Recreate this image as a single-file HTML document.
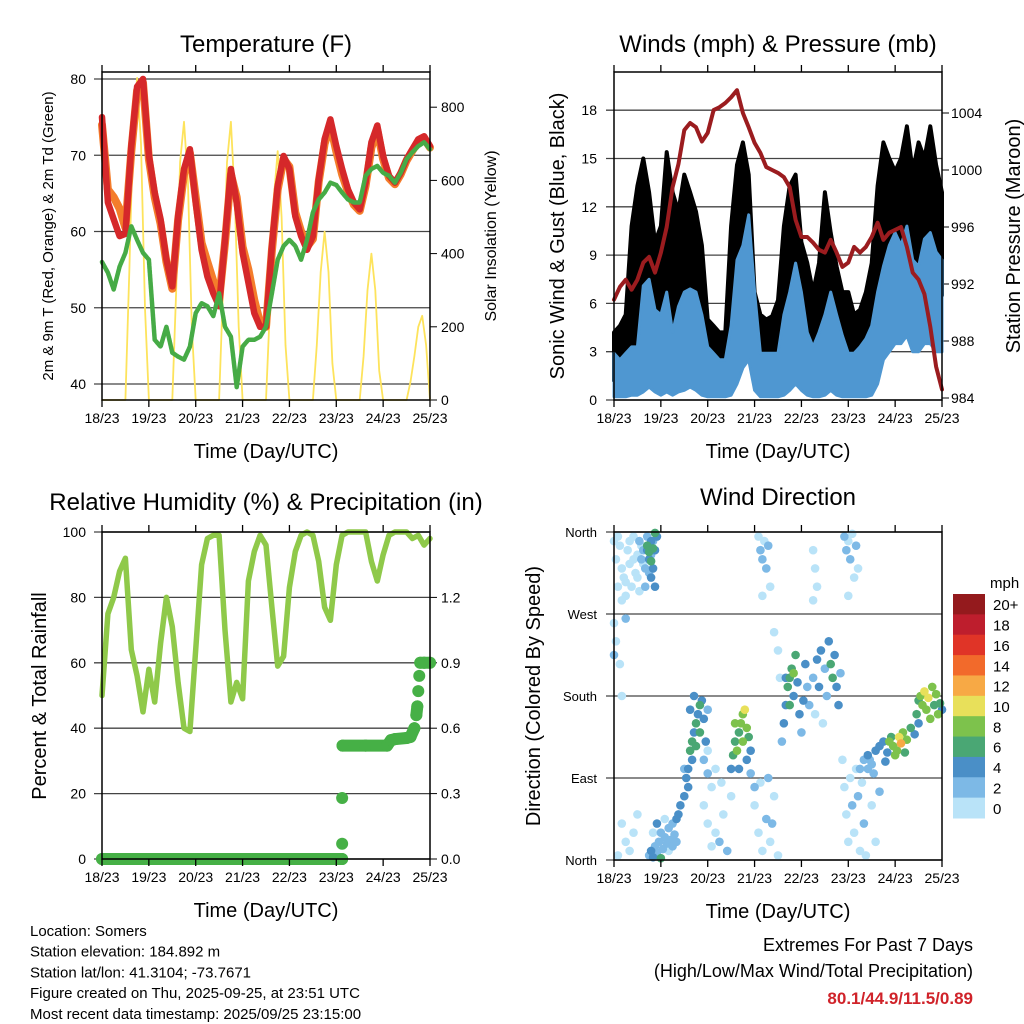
<!DOCTYPE html>
<html><head><meta charset="utf-8"><style>
body{margin:0;background:#fff;}
svg{display:block;font-family:"Liberation Sans",sans-serif;}
</style></head><body>
<svg id="s" width="1024" height="1024" viewBox="0 0 1024 1024"></svg>
<script>
// ---------- DATA (3-hourly, t = 0..168 h from 18/23) ----------
const dayLabels = ["18/23","19/23","20/23","21/23","22/23","23/23","24/23","25/23"];
const temp2m = [75,63.8,61.6,59.4,59.7,71.2,79,80,70,65.1,61.6,56.3,52.8,62,68.2,70.8,63.8,57.6,54.1,51.9,50.2,58.9,68.2,63.8,57.2,53.3,49.3,47.5,47.5,58.1,66,69.9,68.2,62,59.4,57.6,59.4,66.8,72.1,74.7,71.2,68.2,65.5,63.8,62.9,66.4,71.7,73.9,69.9,67.3,66.4,67.7,69.5,70.8,72.1,72.5,71.2];
const temp9m = [74,65.5,64.5,63,60.5,70.5,78.5,79.5,69.5,64.5,61,56,52.5,61.5,67.5,70.3,64.5,58.5,56,53.5,51,58.5,67.5,64.5,58,55,51,48,47.5,57.5,65.5,69.5,68.5,62.5,60,58,59,66.5,71.5,74,70.5,67.5,65.2,63.5,62.7,66,71,73.3,69.5,67,66.2,67.5,69.3,70.6,71.8,72.2,71];
const dewpt = [56,54.6,52.4,55.4,57.2,60.7,58.9,57.2,56.3,45.8,44.9,47.5,44.1,43.6,43.2,44.9,49.3,50.6,50.2,48.9,51.9,47.5,46.2,39.6,44.9,45.8,45.8,46.2,47.5,51.9,56.3,58.1,58.9,58.1,56.3,58.9,62.5,64.2,65.1,66.4,66.1,65.1,64.2,63.8,63.8,67.3,68.2,68.6,67.7,67.3,66.4,67.7,69.5,70.4,71.2,71.7,70.8];
// solar insolation, 2-hourly
const solar = [0,0,0,0,0,0,0,350,750,880,700,250,0,0,0,0,0,0,0,300,650,760,600,200,0,0,0,0,0,0,0,300,650,760,550,200,0,0,0,0,0,0,0,250,550,680,500,150,0,0,0,0,0,0,0,150,350,460,350,100,0,0,0,0,0,0,0,120,300,400,300,80,0,0,0,0,0,0,0,50,120,200,230,150,0];
const windHigh = [2.9,2.5,2.9,3.3,3.3,7.1,7.5,5.6,5.3,6.7,4.2,5.8,6.7,6.9,6.7,5.3,3.3,2.9,2.5,2.5,4.6,8.7,9.6,11.5,6.7,2.9,2.9,2.9,2.9,5.3,6.7,8.5,6.7,4.2,3.3,4.2,5.3,6.7,5.3,4.0,2.9,2.9,3.3,3.8,4.6,6.7,8.3,9.6,10.4,9.6,10.8,8.7,8.3,10.0,10.4,9.2,8.7];
const windLow = [0.2,0.2,0.2,0.3,0.3,0.5,0.8,0.5,0.3,0.5,0.3,0.5,0.6,0.8,0.6,0.3,0.2,0.2,0.2,0.2,0.3,1.0,2.0,2.5,0.6,0.2,0.2,0.2,0.2,0.3,0.6,1.0,0.6,0.3,0.2,0.2,0.3,0.6,0.3,0.2,0.2,0.2,0.2,0.2,0.3,1.0,2.5,3.0,3.5,3.5,4.0,3.0,3.0,3.5,3.5,3.0,3.0];
const gustHigh = [4.2,4.6,5.3,10.8,13.3,15,12.9,9.8,10.8,15.4,12.9,11.7,14,12.9,11.7,9.6,5,4.6,4.2,4.2,10.8,14.6,16,14,6.7,5.3,5,5.2,6.2,10.8,13.3,14,9.8,8.5,6.7,8.5,12.9,10.4,8.3,6.7,6.7,5.3,5.6,6.7,8.5,13.3,16,15,14.2,15,17,14.2,16,15,17,14.6,12.9];
const gustLow = [1.2,1.2,1.5,2.5,3,3.5,3.5,3,2.5,3,2.5,3,3.5,3.5,3,2.5,1.5,1.2,1.2,1.2,2.5,4,5,5.5,3,1.5,1.2,1.2,1.5,3,3.5,4,3.5,2.5,1.5,2.5,3,3.5,3,2,1.5,1.5,1.5,2,2.5,4,6,7,7.5,7.5,8,7,7,7.5,7.5,7,6.5];
const pressure = [990.9,991.8,992.3,991.6,992.3,993.5,993.9,992.8,994.2,996,998.8,1000.4,1002.8,1003.3,1003,1002,1002.6,1004.2,1004.4,1004.7,1005.1,1005.6,1004,1003,1001.9,1001.2,1000.2,1000,999.8,999.5,998.8,996.5,995.3,995.3,994.9,994.4,994.2,995.1,994.2,993.2,993.5,994.6,994.2,994.6,995.3,996.3,995.1,995.6,995.8,996,994.6,992.8,992.3,991.3,989,986.2,984.6];
const rh = [50,75,80,88,92,64,56,45,58,48,66,80,71,54,40,39,64,90,98,99,99,70,48,54,49,85,94,99,96,77,59,62,83,94,99,100,99,91,77,73,90,99,100,100,100,100,91,85,93,99,100,100,100,98,99,96,98];
const rainTimes = [0,20,40,60,80,100,122.5,123,123,123,123.2,135,146,148,150,156,158,160,161,161.5,162,162.5,163,165,168];
const rainTotals = [0,0,0,0,0,0,0,0,0.07,0.28,0.52,0.52,0.52,0.545,0.55,0.555,0.56,0.6,0.66,0.7,0.77,0.84,0.9,0.9,0.9];
// wind direction scatter: time (h), direction (deg), speed (mph)
const dirTimes = [0,1,2,3,4,5,6,7,8,9,10,11,12,13,14,15,2,4,6,8,10,12,13,14,15,16,17,18,19,20,16,18,17,18,19,20,21,22,21,19,17,18,19,20,21,0,0,1,3,6,4,
18,19,20,21,22,23,24,25,26,27,28,29,30,31,32,33,34,24,22,26,28,20,30,32,8,10,4,6,2,12,
36,37,38,39,40,41,42,43,44,45,40,42,44,46,47,48,38,36,46,48,41,39,
46,48,50,52,54,56,58,60,50,55,48,52,
60,61,62,63,64,65,66,67,68,69,70,66,64,62,68,72,70,
72,74,76,78,80,82,84,75,79,81,
74,75,76,77,78,79,80,76,82,84,85,
86,87,88,89,90,91,92,93,94,95,96,97,98,99,88,90,92,
100,102,104,105,106,108,109,110,111,112,113,114,115,116,103,107,
102,103,104,102,
118,119,120,121,122,123,124,125,120,
117,118,119,120,121,122,123,124,125,126,127,128,130,132,134,136,129,131,
126,128,130,132,134,136,138,140,142,133,139,
141,143,145,146,147,148,150,152,154,156,144,149,
155,156,157,158,159,160,161,162,163,164,165,166,167,168];
const dirValues = [350,330,300,345,320,310,290,340,325,300,355,315,335,295,345,325,355,285,305,350,330,310,350,330,340,320,355,345,335,350,300,315,340,330,350,320,340,355,300,310,345,338,328,342,359,260,225,240,215,265,180,
5,10,3,15,8,20,30,12,25,18,35,22,40,28,45,50,60,2,40,45,10,30,15,20,10,30,40,20,5,50,
70,90,100,120,130,140,150,160,170,175,110,125,140,155,130,165,80,100,110,95,180,165,
60,40,80,30,20,50,10,70,15,85,120,100,
100,115,130,120,140,150,160,165,145,135,120,130,100,150,110,80,95,
60,30,10,45,20,70,5,85,90,40,
355,340,330,350,320,345,300,290,250,230,200,
130,150,170,190,200,210,180,225,195,160,140,175,215,190,200,170,205,
170,200,220,190,230,210,180,240,215,200,225,190,170,205,160,150,
340,320,300,285,
355,340,350,330,358,310,345,320,290,
110,80,50,20,90,60,30,100,70,10,85,40,100,60,20,75,5,110,
100,110,115,105,120,125,130,118,135,95,108,
130,125,120,135,128,140,132,145,138,150,115,118,
160,175,180,170,185,165,178,155,190,170,182,160,172,165];
const dirSpeeds = [1,1,1,1,1,1,1,1,1,1,1,1,1,1,1,1,1,1,1,1,1,1,3,3,3,3,3,3,3,3,3,3,5,5,5,5,5,5,5,5,7,7,7,7,7,1,3,1,1,3,1,
3,5,5,3,3,3,3,3,3,3,3,3,3,3,5,5,5,7,5,1,1,1,3,3,1,1,1,1,1,1,
5,5,5,7,7,5,7,5,7,5,5,7,7,5,5,3,5,3,3,3,5,5,
1,1,1,1,3,1,3,1,1,1,1,1,
5,7,7,9,7,9,9,11,9,7,5,9,5,9,5,3,3,
1,1,1,3,1,1,1,1,3,3,
1,3,3,1,3,3,1,1,1,1,1,
3,5,5,7,7,7,5,7,5,5,3,5,5,3,5,7,9,
3,3,5,5,5,3,3,5,7,7,5,5,5,3,1,1,
1,1,1,1,
3,3,1,3,1,1,3,1,1,
1,1,1,1,1,3,1,1,3,1,1,3,3,1,1,3,1,3,
3,3,5,3,5,5,5,5,7,3,5,
9,9,9,11,13,9,9,7,5,5,9,7,
7,7,9,9,11,9,11,9,9,7,9,9,7,5];
const speedLabels = ["20+","18","16","14","12","10","8","6","4","2","0"];
const speedColors = ["#941a1d","#be1e2d","#e03427","#f26a2b","#f7a945","#e8e05a","#7dc24c","#4aa774","#4a8fc7","#7db9e6","#b9e3f8"];

// ---------- helpers ----------
const NS="http://www.w3.org/2000/svg";
const svg=document.getElementById('s');
function mk(tag,attrs,parent){const e=document.createElementNS(NS,tag);for(const k in attrs)e.setAttribute(k,attrs[k]);(parent||svg).appendChild(e);return e;}
function txt(str,x,y,size,anchor,extra,parent){const e=mk('text',Object.assign({x:x,y:y,'font-size':size,'text-anchor':anchor||'middle',fill:'#000'},extra||{}),parent);e.textContent=str;return e;}
const T=i=>i*3;

function panel(name,x0,x1,y0,y1){
  const g=mk('g',{});
  
  
  const X=t=>x0+t/168*(x1-x0);
  return {g,X,x0,x1,y0,y1};
}
function frame(p){
  const r=mk('rect',{x:p.x0,y:p.y0,width:p.x1-p.x0,height:p.y1-p.y0,fill:'none',stroke:'#000','stroke-width':1.5},p.g);
  
  
  for(let d=0;d<8;d++){
    const x=p.X(d*24);
    const tk=mk('line',{x1:x,x2:x,y1:p.y1,y2:p.y1+7,stroke:'#000','stroke-width':1.3},p.g);
    
    
    mk('line',{x1:x,x2:x,y1:p.y0,y2:p.y0-7,stroke:'#000','stroke-width':1.3},p.g);
    const l=txt(dayLabels[d],x,p.y1+23,14,'middle',{},p.g);
    
    
  }
  const xt=txt('Time (Day/UTC)',(p.x0+p.x1)/2,p.y1+58,20,'middle',{},p.g);
  
  
}
function hgrid(p,y,left,right){
  const l=mk('line',{x1:left||p.x0-8,x2:right||p.x1,y1:y,y2:y,stroke:'#444','stroke-width':1.3},p.g);
  
  
}
function poly(p,pts,attrs,name){
  const e=mk('polyline',Object.assign({points:pts.map(a=>a[0].toFixed(1)+','+a[1].toFixed(1)).join(' '),fill:'none','stroke-linejoin':'round','stroke-linecap':'round'},attrs),p.g);
  
  
  return e;
}
function rtitle(str,x,y,size,name){
  const e=txt(str,x,y,size,'middle',{transform:`rotate(-90 ${x} ${y})`});
  
  
}
function title(str,x,y,name){const e=txt(str,x,y,24,'middle');}

// ---------- Panel 1: temperature ----------
{
const p=panel('temperature-panel',102,430,72,400);
const Y=v=>384-(v-40)*7.625, YS=s=>400-s*0.366;
for(const v of [40,50,60,70,80]){hgrid(p,Y(v));const l=txt(String(v),86,Y(v)+5,14,'end',{},p.g);}
for(const s of [0,200,400,600,800]){mk('line',{x1:430,x2:437,y1:YS(s),y2:YS(s),stroke:'#000'},p.g);const l=txt(String(s),441,YS(s)+5,14,'start',{},p.g);}
poly(p,solar.map((v,i)=>[p.X(i*2),YS(v)]),{stroke:'#fde35c','stroke-width':1.8},'solar-line');
poly(p,temp9m.map((v,i)=>[p.X(T(i)),Y(v)]),{stroke:'#f47d2b','stroke-width':8},'temp-9m-line');
poly(p,temp2m.map((v,i)=>[p.X(T(i)),Y(v)]),{stroke:'#d5282a','stroke-width':6.5},'temp-2m-line');
poly(p,dewpt.map((v,i)=>[p.X(T(i)),Y(v)]),{stroke:'#46ab46','stroke-width':4.5,'stroke-dasharray':'3 1'},'dewpoint-line');
frame(p);
}
title('Temperature (F)',266,52,'temperature-title');
rtitle('2m & 9m T (Red, Orange) & 2m Td (Green)',53,236,15,'temperature-y-title');
rtitle('Solar Insolation (Yellow)',496,236,16,'solar-y-title');

// ---------- Panel 2: winds & pressure ----------
{
const p=panel('winds-panel',614,942,72,400);
const Y=v=>400-v*16.1, YP=v=>398-(v-984)*14.25;
for(const v of [0,3,6,9,12,15,18]){hgrid(p,Y(v));const l=txt(String(v),597,Y(v)+5,14,'end',{},p.g);}
for(const v of [984,988,992,996,1000,1004]){mk('line',{x1:942,x2:949,y1:YP(v),y2:YP(v),stroke:'#000'},p.g);const l=txt(String(v),951,YP(v)+5,14,'start',{},p.g);}
const gband=gustHigh.map((v,i)=>[p.X(T(i)),Y(v)]).concat(gustLow.map((v,i)=>[p.X(T(i)),Y(v)]).reverse());
const g=mk('polygon',{points:gband.map(a=>a[0].toFixed(1)+','+a[1].toFixed(1)).join(' '),fill:'#000',stroke:'#000','stroke-width':4,'stroke-linejoin':'round'},p.g);


const band=windHigh.map((v,i)=>[p.X(T(i)),Y(v)]).concat(windLow.map((v,i)=>[p.X(T(i)),Y(v)]).reverse());
const b=mk('polygon',{points:band.map(a=>a[0].toFixed(1)+','+a[1].toFixed(1)).join(' '),fill:'#4f97d1',stroke:'#4f97d1','stroke-width':3,'stroke-linejoin':'round'},p.g);


poly(p,pressure.map((v,i)=>[p.X(T(i)),YP(v)]),{stroke:'#9b1c1f','stroke-width':4},'pressure-line');
frame(p);
}
title('Winds (mph) & Pressure (mb)',778,52,'winds-title');
rtitle('Sonic Wind & Gust (Blue, Black)',564,236,20,'wind-y-title');
rtitle('Station Pressure (Maroon)',1020,236,20,'pressure-y-title');

// ---------- Panel 3: RH & precip ----------
{
const p=panel('humidity-panel',102,430,532,859);
const Y=v=>859-v*3.27, YR=v=>859-v*218;
for(const v of [0,20,40,60,80,100]){hgrid(p,Y(v));const l=txt(String(v),86,Y(v)+5,14,'end',{},p.g);}
for(const v of [0,0.3,0.6,0.9,1.2]){mk('line',{x1:430,x2:437,y1:YR(v),y2:YR(v),stroke:'#000'},p.g);const l=txt(v.toFixed(1),441,YR(v)+5,14,'start',{},p.g);}
poly(p,rh.map((v,i)=>[p.X(T(i)),Y(v)]),{stroke:'#8fc94a','stroke-width':5.5},'rh-line');
for(let i=1;i<rainTimes.length;i++){
  if(Math.abs(rainTotals[i]-rainTotals[i-1])<0.04){
    const l=mk('line',{x1:p.X(rainTimes[i-1]),x2:p.X(rainTimes[i]),y1:YR(rainTotals[i-1]),y2:YR(rainTotals[i]),stroke:'#46b046','stroke-width':12,'stroke-linecap':'round'},p.g);
    
    
  }
}
for(let i=0;i<rainTimes.length;i++){
  const c=mk('circle',{cx:p.X(rainTimes[i]),cy:YR(rainTotals[i]),r:6,fill:'#46b046'},p.g);
  
  
}
frame(p);
}
title('Relative Humidity (%) & Precipitation (in)',266,510,'humidity-title');
rtitle('Percent & Total Rainfall',46,696,20,'humidity-y-title');

// ---------- Panel 4: wind direction ----------
{
const p=panel('direction-panel',614,942,532,860);
const Y=d=>860-d/360*328;
const dl=[[0,'North'],[90,'East'],[180,'South'],[270,'West'],[360,'North']];
for(const [d,n] of dl){hgrid(p,Y(d));const l=txt(n,597,Y(d)+5,13,'end',{},p.g);}
const col=s=>speedColors[10-Math.min(10,Math.floor(s/2))];
const order=dirSpeeds.map((s,i)=>i).sort((a,b)=>dirSpeeds[a]-dirSpeeds[b]);
for(const i of order){
  const c=mk('circle',{cx:p.X(dirTimes[i]),cy:Y(dirValues[i]),r:4.3,fill:col(dirSpeeds[i])},p.g);
  
  
}
frame(p);
// colorbar
const cb=mk('g',{});


const h=224/11;
for(let i=0;i<11;i++){
  const r=mk('rect',{x:953,y:594+i*h,width:32,height:h+0.5,fill:speedColors[i]},cb);
  
  
  const l=txt(speedLabels[i],993,594+i*h+h/2+6,15,'start',{},cb);
  
  
}
const u=txt('mph',990,588,15,'start',{},cb);


}
title('Wind Direction',778,505,'direction-title');
rtitle('Direction (Colored By Speed)',540,696,20,'direction-y-title');

// ---------- footer text ----------
const info=["Location: Somers","Station elevation: 184.892 m","Station lat/lon: 41.3104; -73.7671","Figure created on Thu, 2025-09-25, at 23:51 UTC","Most recent data timestamp: 2025/09/25 23:15:00"];
info.forEach((s,i)=>{const e=txt(s,30,936+i*20.7,15,'start');});
let e=txt('Extremes For Past 7 Days',973,951,18,'end');


e=txt('(High/Low/Max Wind/Total Precipitation)',973,977,18,'end');


e=txt('80.1/44.9/11.5/0.89',973,1004,17,'end',{fill:'#d0232a','font-weight':'bold'});


</script>
</body></html>
